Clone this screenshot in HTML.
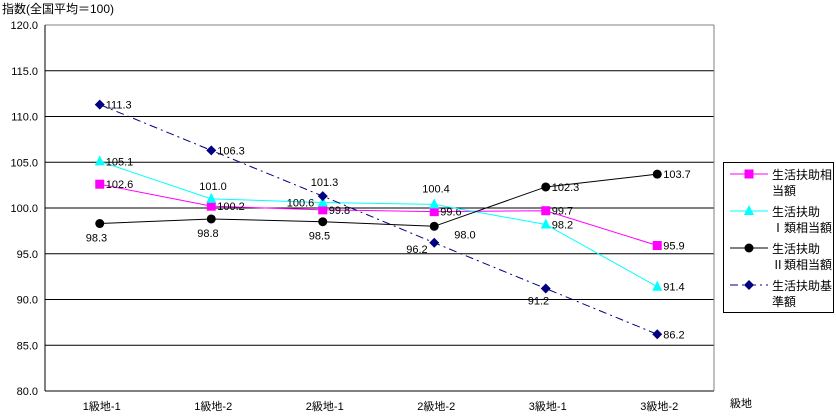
<!DOCTYPE html>
<html><head><meta charset="utf-8"><style>
body{margin:0;background:#fff;}
svg{display:block;font-family:"Liberation Sans","Noto Sans CJK JP",sans-serif;}
</style></head><body>
<svg id="c" width="836" height="416"></svg>
<script>
const categories=["1級地-1","1級地-2","2級地-1","2級地-2","3級地-1","3級地-2"];
const seriesNames=["生活扶助相当額","生活扶助Ⅰ類相当額","生活扶助Ⅱ類相当額","生活扶助基準額"];
const pinkValues=[102.6,100.2,99.8,99.6,99.7,95.9];
const cyanValues=[105.1,101.0,100.6,100.4,98.2,91.4];
const blackValues=[98.3,98.8,98.5,98.0,102.3,103.7];
const navyValues=[111.3,106.3,101.3,96.2,91.2,86.2];
const yTicks=[80,85,90,95,100,105,110,115,120];
const labelOffsets=[
 [[6,4],[6,4],[6,4],[6,4],[6,4],[6,4]],
 [[6,4],[-12,-9],[-36,4],[-12,-12],[6,4],[6,4]],
 [[-14,18],[-14,18],[-14,18],[20,12],[6,4],[6,4]],
 [[6,4],[6,4],[-12,-10],[-28,10],[-18,16],[6,4]]
];
const NS="http://www.w3.org/2000/svg";
const svg=document.getElementById('c');
const L=45,R=714,T=25,B=391;
const x=i=>L+(R-L)/categories.length*(i+0.5)-1;
const y=v=>T+(120-v)*(B-T)/40;
function mk(t,a,p){const e=document.createElementNS(NS,t);for(const k in a)e.setAttribute(k,a[k]);(p||svg).appendChild(e);return e;}
let t=mk('text',{x:2,y:13,'font-size':12});t.textContent="指数(全国平均＝100)";


yTicks.forEach(v=>{
 const g=mk('line',{x1:L,x2:R,y1:y(v),y2:y(v),stroke:v==120?'#808080':'#000','stroke-width':1});
 
 
 const tx=mk('text',{x:38,y:y(v)+4,'font-size':11,'text-anchor':'end'});tx.textContent=v.toFixed(1);
 
 
});
mk('line',{x1:L,x2:L,y1:T,y2:B,stroke:'#000'});
mk('line',{x1:R,x2:R,y1:T,y2:B,stroke:'#808080'});
categories.forEach((c,i)=>{
 const tx=mk('text',{x:x(i)+2,y:410,'font-size':11,'text-anchor':'middle'});tx.textContent=c;
 
 
});
t=mk('text',{x:730,y:407,'font-size':11});t.textContent="級地";


const styles=[{c:'#ff00ff',m:'sq',d:''},{c:'#00ffff',m:'tri',d:''},{c:'#000',m:'circ',d:''},{c:'#000080',m:'dia',d:'8,4,2,4'}];
function marker(p,cx,cy,s){
 let e;
 if(s.m=='sq')e=mk('rect',{x:cx-4.5,y:cy-4.5,width:9,height:9,fill:s.c},p);
 else if(s.m=='tri')e=mk('polygon',{points:`${cx},${cy-6} ${cx-5},${cy+4} ${cx+5},${cy+4}`,fill:s.c},p);
 else if(s.m=='circ')e=mk('circle',{cx,cy,r:4.5,fill:s.c},p);
 else e=mk('polygon',{points:`${cx},${cy-5} ${cx+5},${cy} ${cx},${cy+5} ${cx-5},${cy}`,fill:s.c},p);
 return e;
}
[pinkValues,cyanValues,blackValues,navyValues].forEach((vals,si)=>{
 const s=styles[si];
 const g=mk('g',{});
 
 
 const pl=mk('polyline',{points:vals.map((v,i)=>x(i)+','+y(v)).join(' '),fill:'none',stroke:s.c,'stroke-width':1,'stroke-dasharray':s.d},g);
 
 
 vals.forEach((v,i)=>{
  const m=marker(g,x(i),y(v),s);
  
  
  const o=labelOffsets[si][i];
  const tx=mk('text',{x:x(i)+o[0],y:y(v)+o[1],'font-size':11},g);tx.textContent=v.toFixed(1);
  
  
 });
});
const lg=mk('g',{});


mk('rect',{x:723.5,y:162.5,width:110,height:150,fill:'#fff',stroke:'#000'},lg);
const lines=[["生活扶助相","当額"],["生活扶助","Ⅰ類相当額"],["生活扶助","Ⅱ類相当額"],["生活扶助基","準額"]];
lines.forEach((ln,i)=>{
 const yy=174+i*37;const s=styles[i];
 const e=mk('g',{},lg);
 
 
 mk('line',{x1:730,x2:768,y1:yy,y2:yy,stroke:s.c,'stroke-dasharray':s.d},e);
 marker(e,749,yy,s);
 ln.forEach((tt,j)=>{const tx=mk('text',{x:772,y:yy+5+j*16,'font-size':12},e);tx.textContent=tt;});
});
</script>
</body></html>
